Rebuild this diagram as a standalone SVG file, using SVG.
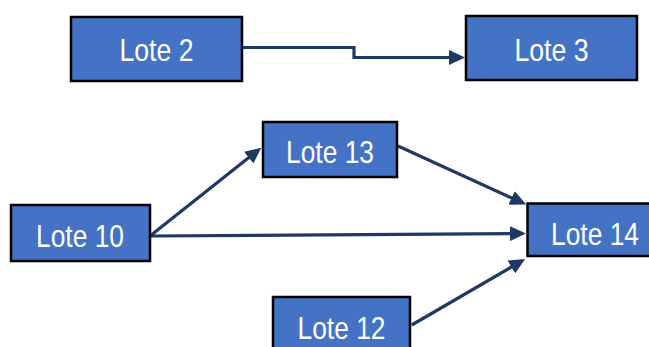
<svg xmlns="http://www.w3.org/2000/svg" width="649" height="347" viewBox="0 0 649 347">
  <style>
    .box { fill: #4472C4; stroke: #000000; stroke-width: 2.5; }
    .lbl { font-family: "Liberation Sans", Arial, sans-serif; font-size: 31.5px; fill: #FFFFFF; text-anchor: middle; }
    .con { fill: none; stroke: #203864; stroke-width: 3.2; marker-end: url(#arrow); }
  </style>
  <defs>
    <marker id="arrow" viewBox="0 0 16 15" refX="1" refY="7.5" markerWidth="16" markerHeight="15" markerUnits="userSpaceOnUse" orient="auto">
      <path d="M0,0 L16,7.5 L0,15 z" fill="#203864"/>
    </marker>
  </defs>
  <g id="connectors">
    <path class="con" d="M242,47.5 H354 V57.5 H450"/>
    <path class="con" d="M150,236 L249.5,157"/>
    <path class="con" d="M150,236 L511,233.6"/>
    <path class="con" d="M398,146 L512.5,198.3"/>
    <path class="con" d="M411.7,325 L512.2,266.5"/>
  </g>
  <g id="lote2">
    <rect class="box" x="71" y="17" width="171" height="64"/>
    <text class="lbl" x="156.5" y="60.5" textLength="74" lengthAdjust="spacingAndGlyphs">Lote 2</text>
  </g>
  <g id="lote3">
    <rect class="box" x="466" y="16" width="171" height="64"/>
    <text class="lbl" x="551.5" y="60.5" textLength="74" lengthAdjust="spacingAndGlyphs">Lote 3</text>
  </g>
  <g id="lote13">
    <rect class="box" x="263" y="122" width="134" height="55"/>
    <text class="lbl" x="330" y="163" textLength="88" lengthAdjust="spacingAndGlyphs">Lote 13</text>
  </g>
  <g id="lote10">
    <rect class="box" x="11" y="205" width="139" height="56"/>
    <text class="lbl" x="80" y="247" textLength="88" lengthAdjust="spacingAndGlyphs">Lote 10</text>
  </g>
  <g id="lote14">
    <rect class="box" x="527.5" y="203.5" width="136" height="52.5"/>
    <text class="lbl" x="595" y="244.5" textLength="88" lengthAdjust="spacingAndGlyphs">Lote 14</text>
  </g>
  <g id="lote12">
    <rect class="box" x="273" y="297" width="137" height="60"/>
    <text class="lbl" x="341.5" y="338.5" textLength="88" lengthAdjust="spacingAndGlyphs">Lote 12</text>
  </g>
</svg>
